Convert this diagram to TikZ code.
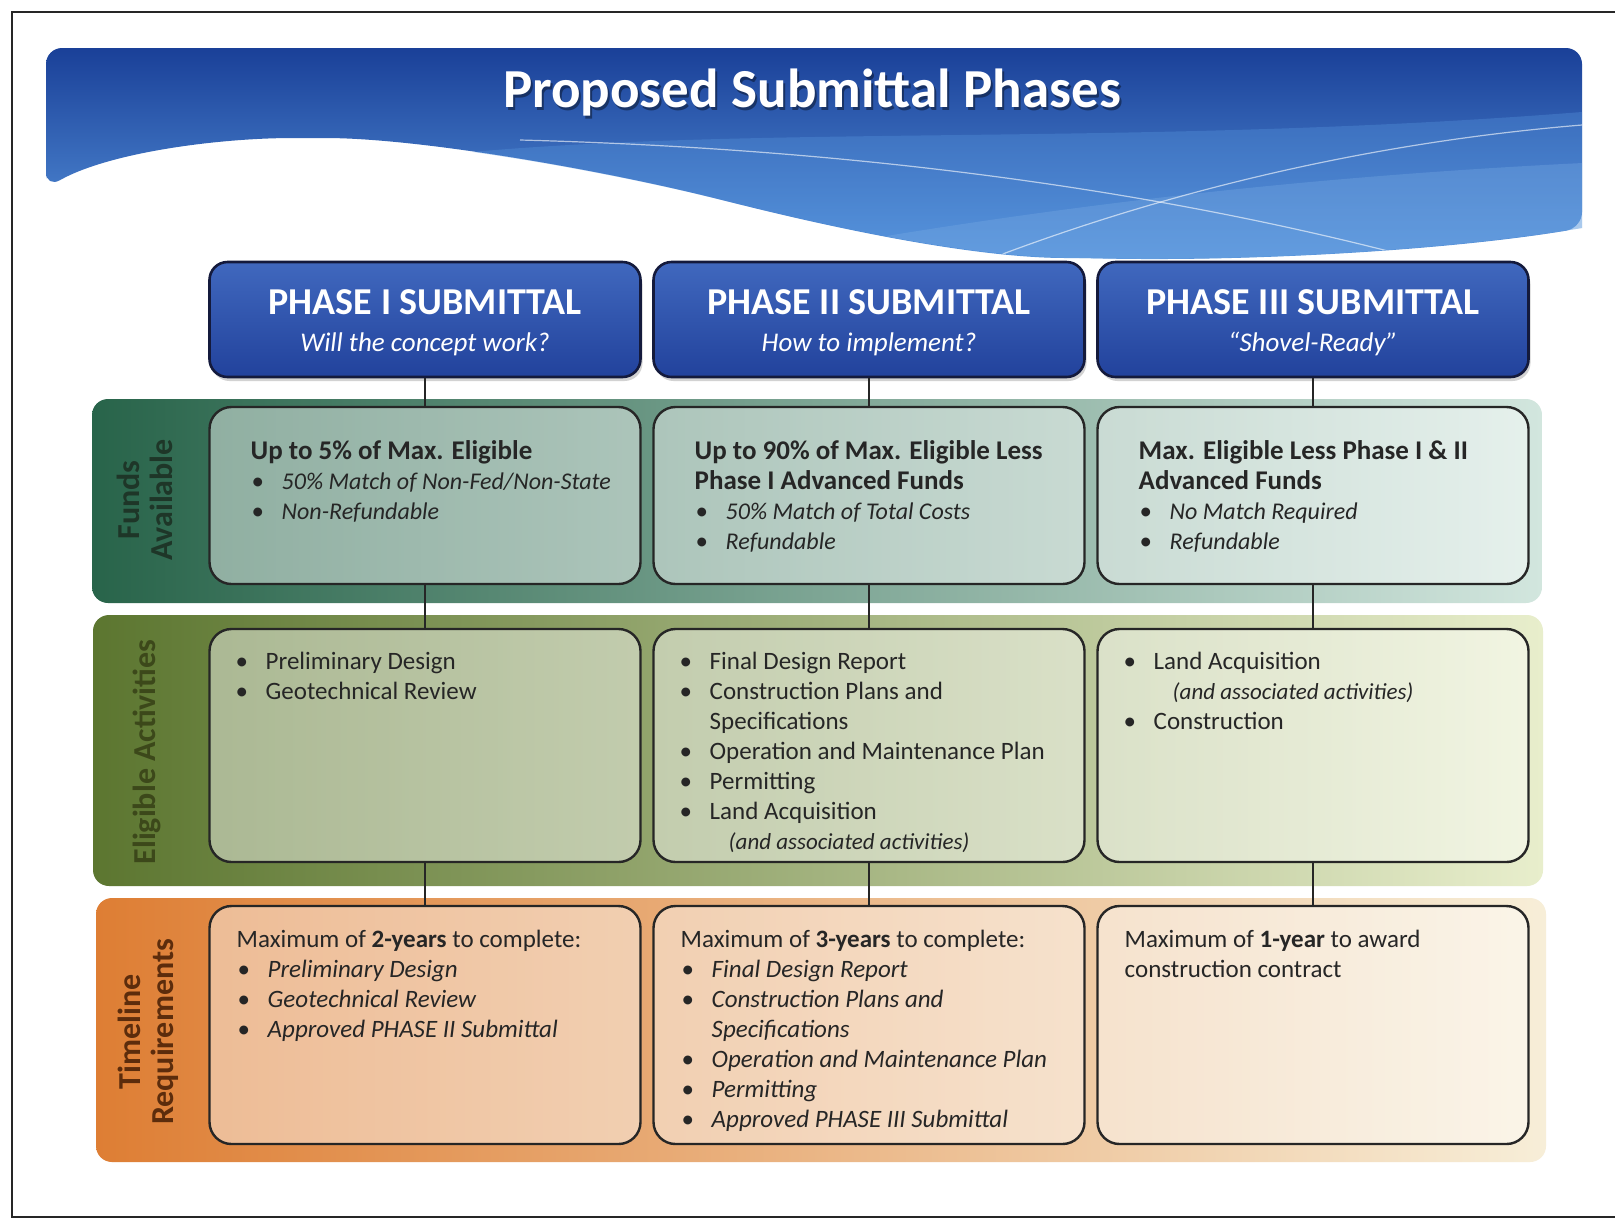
\documentclass[tikz,border=0pt]{standalone}
\usepackage{fontspec}
\setmainfont{Carlito}
\usepackage{xcolor}
\usepackage{tikz}
\usetikzlibrary{positioning,shadows}

\definecolor{bannerdark}{RGB}{26,64,152}
\definecolor{bannerlight}{RGB}{88,150,222}
\definecolor{phasetop}{RGB}{64,104,190}
\definecolor{phasebot}{RGB}{34,66,156}
\definecolor{phaseline}{RGB}{20,26,60}
\definecolor{fundsdark}{RGB}{40,100,74}
\definecolor{fundslight}{RGB}{210,230,222}
\definecolor{actdark}{RGB}{92,118,48}
\definecolor{actlight}{RGB}{232,238,204}
\definecolor{timedark}{RGB}{222,126,52}
\definecolor{timelight}{RGB}{247,238,216}
\definecolor{fundsink}{RGB}{30,54,40}
\definecolor{actink}{RGB}{60,72,26}
\definecolor{timeink}{RGB}{92,44,12}

\newcommand{\bul}{\hspace*{0.5pt}\makebox[15pt][l]{\textbullet}}
\newcommand{\cont}{\hspace*{15.5pt}}
\newcommand{\subline}[1]{\hspace*{25pt}{\fontsize{11.5}{14}\selectfont\itshape #1}}
\newcommand{\fundhead}[1]{{\fontsize{13.5}{16}\selectfont\bfseries #1}}
\newcommand{\fundnote}[1]{{\fontsize{12}{15}\selectfont\itshape #1}}

\tikzset{
    phase/.style={
    rectangle,rounded corners=9pt,draw=phaseline,line width=1.3pt,
    top color=phasetop,bottom color=phasebot,
    minimum width=215.5pt,minimum height=57.5pt,inner sep=0pt,
    text=white,align=center,font=\fontsize{19}{18.5}\selectfont,
    drop shadow={shadow xshift=1pt,shadow yshift=-2pt,opacity=0.35}
    },
    band/.style={
    rectangle,rounded corners=8pt,minimum width=725pt,inner sep=0pt
    },
    cell/.style={
    rectangle,rounded corners=11pt,draw=black!85,line width=1.2pt,
    fill=white,fill opacity=0.45,minimum width=215.5pt,inner sep=0pt
    },
  body/.style={anchor=north west, inner sep=0pt, align=left, text=black!85, font=\fontsize{12.5}{15}\selectfont},
  rowlabel/.style={rotate=90, align=center, font=\bfseries\fontsize{16}{16.5}\selectfont},
  link/.style={draw=black!85, line width=1.2pt},
  title/.style={font=\bfseries\fontsize{27.5}{30}\selectfont, inner sep=0pt},
}

\begin{document}
\begin{tikzpicture}[x=0.5pt, y=-0.5pt]
   \useasboundingbox (0,0) rectangle (1615,1222);
   \fill[white] (0,0) rectangle (1615,1222);
   \draw[line width=1pt, black!85] (1615,12) -- (12,12) -- (12,1217) -- (1615,1217);

   % banner
   \path[rounded corners=8pt, top color=bannerdark, bottom color=bannerlight]
     (46,188) -- (46,48) -- (1582,48) -- (1582,228)
     .. controls (1450,250) and (1250,262) .. (1082,258)
     .. controls (980,258) and (850,232) .. (722,200)
     .. controls (600,170) and (420,138) .. (309,138)
     .. controls (220,138) and (110,152) .. (46,188) -- cycle;
   \begin{scope}
   \clip (46,188) -- (46,48) -- (1582,48) -- (1582,228)
     .. controls (1450,250) and (1250,262) .. (1082,258)
     .. controls (980,258) and (850,232) .. (722,200)
     .. controls (600,170) and (420,138) .. (309,138)
     .. controls (220,138) and (110,152) .. (46,188) -- cycle;
   \fill[bannerlight, fill opacity=0.35] (380,162) .. controls (700,120) and (1100,150) .. (1582,112) -- (1650,112) -- (1650,300) -- (380,300) -- cycle;
   \fill[bannerlight!80!white, fill opacity=0.35] (850,242) .. controls (1100,200) and (1350,172) .. (1650,160) -- (1650,300) -- (850,300) -- cycle;
   \draw[white, opacity=0.6, line width=0.6pt] (520,140) .. controls (900,150) and (1200,200) .. (1430,262);
   \draw[white, opacity=0.6, line width=0.6pt] (1000,255) .. controls (1200,180) and (1400,140) .. (1582,125);
   \end{scope}
   \node[title, text=black, opacity=0.4] (titleshadow) at (814,96) {Proposed Submittal Phases};
   \node[title, text=white] (titletext) at (812,93) {Proposed Submittal Phases};

   % row bands
   \node[band, minimum height=102pt, left color=fundsdark, right color=fundslight] (fundsrow) at (817,501) {};
   \node[band, minimum height=135.5pt, left color=actdark, right color=actlight] (actrow) at (818,750.5) {};
   \node[band, minimum height=132pt, left color=timedark, right color=timelight] (timerow) at (821,1030) {};

   \node[rowlabel, text=fundsink] (fundslbl) at (145,500) {Funds\\Available};
   \node[rowlabel, text=actink] (actlbl) at (147,752) {Eligible Activities};
   \node[rowlabel, text=timeink] (timelbl) at (148,1032) {Timeline\\Requirements};

   % phase headers
   \node[phase] (ph1) at (425,319.5) {\rule{0pt}{16pt}\textbf{PHASE I SUBMITTAL}\\{\fontsize{13.5}{18.5}\selectfont\itshape Will the concept work?}};
   \node[phase] (ph2) at (869,319.5) {\rule{0pt}{16pt}\textbf{PHASE II SUBMITTAL}\\{\fontsize{13.5}{18.5}\selectfont\itshape How to implement?}};
   \node[phase] (ph3) at (1313,319.5) {\rule{0pt}{16pt}\textbf{PHASE III SUBMITTAL}\\{\fontsize{13.5}{18.5}\selectfont\itshape ``Shovel-Ready''}};

   % cells
   \node[cell, minimum height=88.5pt] (fund1) at (425,495.5) {};
   \node[cell, minimum height=88.5pt] (fund2) at (869,495.5) {};
   \node[cell, minimum height=88.5pt] (fund3) at (1313,495.5) {};
   \node[cell, minimum height=116.5pt] (act1) at (425,745.5) {};
   \node[cell, minimum height=116.5pt] (act2) at (869,745.5) {};
   \node[cell, minimum height=116.5pt] (act3) at (1313,745.5) {};
   \node[cell, minimum height=119pt] (time1) at (425,1025) {};
   \node[cell, minimum height=119pt] (time2) at (869,1025) {};
   \node[cell, minimum height=119pt] (time3) at (1313,1025) {};

   \node[body] (fund1txt) at ([shift={(42,34)}]fund1.north west) {\fundhead{Up to 5\% of Max. Eligible}\\
     \bul\fundnote{50\% Match of Non-Fed/Non-State}\\
     \bul\fundnote{Non-Refundable}};
   \node[body] (fund2txt) at ([shift={(42,34)}]fund2.north west) {\fundhead{Up to 90\% of Max. Eligible Less}\\
     \fundhead{Phase I Advanced Funds}\\
     \bul\fundnote{50\% Match of Total Costs}\\
     \bul\fundnote{Refundable}};
   \node[body] (fund3txt) at ([shift={(42,34)}]fund3.north west) {\fundhead{Max. Eligible Less Phase I \& II}\\
     \fundhead{Advanced Funds}\\
     \bul\fundnote{No Match Required}\\
     \bul\fundnote{Refundable}};

   \node[body] (act1txt) at ([shift={(26,24)}]act1.north west) {\bul Preliminary Design\\
     \bul Geotechnical Review};
   \node[body] (act2txt) at ([shift={(26,24)}]act2.north west) {\bul Final Design Report\\
     \bul Construction Plans and\\
     \cont Specifications\\
     \bul Operation and Maintenance Plan\\
     \bul Permitting\\
     \bul Land Acquisition\\
     \subline{(and associated activities)}};
   \node[body] (act3txt) at ([shift={(26,24)}]act3.north west) {\bul Land Acquisition\\
     \subline{(and associated activities)}\\
     \bul Construction};

   \node[body] (time1txt) at ([shift={(28,25)}]time1.north west) {Maximum of \textbf{2-years} to complete:\\
     \bul\textit{Preliminary Design}\\
     \bul\textit{Geotechnical Review}\\
     \bul\textit{Approved PHASE II Submittal}};
   \node[body] (time2txt) at ([shift={(28,25)}]time2.north west) {Maximum of \textbf{3-years} to complete:\\
     \bul\textit{Final Design Report}\\
     \bul\textit{Construction Plans and}\\
     \cont\textit{Specifications}\\
     \bul\textit{Operation and Maintenance Plan}\\
     \bul\textit{Permitting}\\
     \bul\textit{Approved PHASE III Submittal}};
   \node[body] (time3txt) at ([shift={(28,25)}]time3.north west) {Maximum of \textbf{1-year} to award\\
     construction contract};

  \path[link]
    (ph1) edge (fund1)
    (fund1) edge (act1)
    (act1) edge (time1)
    (ph2) edge (fund2)
    (fund2) edge (act2)
    (act2) edge (time2)
    (ph3) edge (fund3)
    (fund3) edge (act3)
    (act3) edge (time3);
\end{tikzpicture}
\end{document}
